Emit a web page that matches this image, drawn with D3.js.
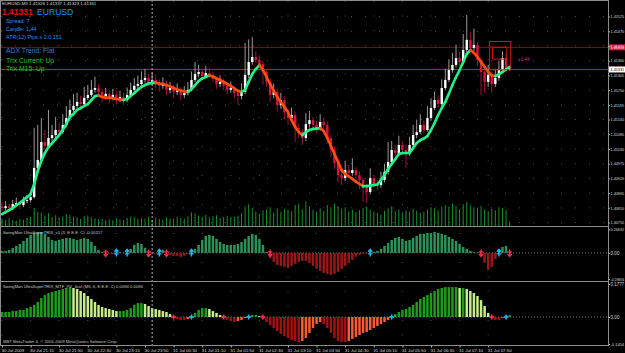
<!DOCTYPE html>
<html><head><meta charset="utf-8">
<script src="https://cdn.jsdelivr.net/npm/d3@7/dist/d3.min.js"></script>
<style>
html,body{margin:0;padding:0;background:#000;overflow:hidden}
svg{display:block;font-family:"Liberation Sans",Arial,sans-serif}
</style></head><body>
<svg id="chart" width="625" height="353"></svg>
<script>
// EURUSD M5, prices stored in points above 1.40000 (1 point = 0.00001)
const priceBase = 1.40000, pointSize = 0.00001;
const opens = [815,809,816,809,824,828,820,835,839,850,
959,989,1056,1041,1071,1082,1101,1093,1120,1146,
1176,1191,1206,1198,1221,1232,1251,1258,1243,1228,
1236,1221,1232,1217,1224,1213,1232,1251,1266,1273,
1288,1296,1281,1288,1273,1266,1273,1251,1258,1243,
1251,1232,1239,1251,1288,1310,1318,1303,1314,1307,
1292,1273,1281,1266,1251,1258,1239,1228,1243,1307,
1355,1374,1363,1348,1318,1281,1232,1243,1194,1213,
1168,1146,1157,1108,1093,1071,1123,1138,1120,1108,
1131,1120,1071,1026,977,932,921,951,940,951,
932,914,884,869,921,899,895,914,944,981,
1026,1015,1045,1026,1019,1045,1082,1093,1120,1101,
1146,1183,1213,1198,1258,1288,1325,1344,1370,1355,
1400,1438,1408,1419,1363,1318,1281,1307,1273,1296,
1325,1370,1326];
const highs = [830,835,826,840,848,838,852,858,868,1108,
1120,1146,1100,1176,1120,1150,1130,1160,1190,1215,
1235,1240,1228,1262,1270,1288,1300,1270,1255,1258,
1250,1255,1245,1248,1240,1260,1278,1295,1305,1320,
1330,1310,1315,1300,1290,1298,1285,1280,1270,1275,
1262,1265,1280,1320,1355,1345,1330,1340,1335,1320,
1300,1305,1292,1278,1282,1265,1252,1275,1426,1440,
1449,1395,1380,1360,1330,1295,1275,1255,1240,1225,
1180,1185,1170,1125,1105,1165,1172,1150,1135,1160,
1148,1132,1085,1040,990,950,985,970,995,962,
945,925,900,958,930,915,945,975,1056,1060,
1045,1080,1058,1045,1075,1120,1140,1160,1135,1190,
1220,1245,1230,1290,1330,1365,1390,1420,1395,1460,
1531,1470,1480,1430,1375,1330,1345,1320,1330,1360,
1395,1385,1337];
const lows = [795,800,798,802,815,806,812,826,830,845,
950,980,1025,1030,1060,1070,1080,1085,1110,1135,
1165,1180,1185,1190,1212,1225,1240,1230,1205,1215,
1200,1212,1198,1205,1195,1205,1225,1240,1255,1262,
1278,1265,1270,1258,1245,1255,1230,1238,1220,1232,
1212,1220,1230,1245,1280,1298,1290,1295,1296,1280,
1255,1262,1250,1235,1240,1220,1195,1215,1235,1295,
1345,1350,1330,1270,1262,1205,1220,1170,1180,1140,
1120,1130,1056,1070,1045,1060,1110,1100,1090,1098,
1105,1050,1000,955,905,895,910,925,930,915,
880,835,828,860,885,878,885,905,935,970,
1000,1005,1010,960,1005,1035,1070,1085,1088,1095,
1135,1175,1185,1190,1250,1280,1315,1335,1340,1345,
1390,1395,1395,1340,1232,1240,1262,1240,1262,1285,
1315,1315,1323];
const closes = [809,816,809,824,828,820,835,839,850,959,
989,1056,1041,1071,1082,1101,1093,1120,1146,1176,
1191,1206,1198,1221,1232,1251,1258,1243,1228,1236,
1221,1232,1217,1224,1213,1232,1251,1266,1273,1288,
1296,1281,1288,1273,1266,1273,1251,1258,1243,1251,
1232,1239,1251,1288,1310,1318,1303,1314,1307,1292,
1273,1281,1266,1251,1258,1239,1228,1243,1307,1355,
1374,1363,1348,1318,1281,1232,1243,1194,1213,1168,
1146,1157,1108,1093,1071,1123,1138,1120,1108,1131,
1120,1071,1026,977,932,921,951,940,951,932,
914,884,869,921,899,895,914,944,981,1026,
1015,1045,1026,1019,1045,1082,1093,1120,1101,1146,
1183,1213,1198,1258,1288,1325,1344,1370,1355,1400,
1438,1408,1419,1363,1318,1281,1307,1273,1296,1325,
1370,1326,1331];
const maValues = [786,794,801,809,820,828,839,850,861,899,
947,985,1015,1037,1052,1067,1082,1101,1123,1150,
1161,1176,1183,1191,1198,1213,1228,1230,1224,1222,
1221,1220,1217,1215,1213,1217,1228,1239,1251,1262,
1269,1275,1277,1277,1275,1273,1269,1264,1258,1252,
1249,1245,1243,1254,1269,1284,1294,1299,1305,1301,
1294,1288,1281,1273,1266,1256,1247,1243,1251,1281,
1310,1329,1344,1325,1299,1273,1247,1224,1206,1187,
1168,1138,1112,1093,1082,1093,1101,1105,1106,1108,
1097,1071,1041,1011,981,951,936,927,918,908,
899,891,891,893,895,897,914,933,955,974,
992,1011,1015,1015,1015,1034,1052,1063,1069,1078,
1101,1127,1157,1183,1206,1236,1269,1299,1325,1355,
1385,1400,1389,1374,1355,1337,1318,1305,1303,1309,
1318,1327,1337];
const volumes = [45,38,52,40,35,48,42,55,60,120,
95,88,70,85,60,72,55,64,80,75,
62,58,48,66,70,58,52,45,50,40,
46,38,52,44,40,55,62,58,48,52,
45,60,40,55,48,42,58,50,46,62,
55,48,66,90,85,70,62,75,58,66,
72,55,60,68,58,62,70,88,130,145,
120,95,82,105,110,125,88,118,92,115,
108,98,140,150,112,165,130,108,96,118,
102,140,125,150,132,118,125,98,110,92,
105,120,128,110,95,88,76,102,118,130,
98,110,92,105,96,115,102,88,95,110,
125,118,102,130,140,128,150,135,112,145,
160,138,125,120,132,110,98,115,105,125,
118,108,30];
const trixValues = [0.023,0.023,0.034,0.057,0.080,0.103,0.137,0.171,0.205,0.228,
0.239,0.239,0.217,0.182,0.148,0.137,0.148,0.160,0.171,0.171,
0.160,0.148,0.160,0.171,0.160,0.125,0.080,0.034,0.011,-0.011,
-0.011,-0.011,0.006,0.011,0.002,0.011,0.046,0.091,0.114,0.103,
0.057,-0.006,-0.004,-0.002,0.023,0.034,-0.006,-0.023,-0.034,-0.034,
-0.046,-0.034,-0.011,0.011,0.046,0.091,0.148,0.194,0.205,0.194,
0.160,0.125,0.103,0.091,0.091,0.091,0.103,0.125,0.160,0.194,
0.217,0.205,0.160,0.091,0.011,-0.057,-0.103,-0.137,-0.148,-0.160,
-0.171,-0.148,-0.125,-0.103,-0.091,-0.091,-0.114,-0.148,-0.182,-0.205,
-0.228,-0.239,-0.251,-0.239,-0.217,-0.182,-0.148,-0.114,-0.080,-0.046,
-0.023,-0.011,-0.011,0.011,0.011,0.023,0.046,0.080,0.114,0.148,
0.171,0.182,0.160,0.137,0.148,0.171,0.194,0.217,0.217,0.228,
0.228,0.239,0.228,0.217,0.205,0.182,0.160,0.137,0.103,0.068,
0.046,0.023,0.011,0.006,-0.034,-0.114,-0.194,-0.160,-0.068,0.034,
0.068,0.080,-0.00217];
const trixArrowsDown = [29,41,46,75,134,142];
const trixArrowsUp = [32,35,44,53,103,139];
const mtfValues = [0.027,0.027,0.027,0.032,0.032,0.038,0.038,0.048,0.054,0.065,
0.081,0.102,0.118,0.129,0.135,0.140,0.145,0.151,0.156,0.161,
0.156,0.151,0.140,0.129,0.113,0.097,0.081,0.065,0.054,0.048,
0.043,0.038,0.032,0.032,0.032,0.038,0.048,0.065,0.075,0.075,
0.070,0.059,0.048,0.043,0.038,0.032,0.027,0.016,-0.005,-0.011,
-0.016,-0.016,-0.011,0.005,0.022,0.038,0.048,0.048,0.043,0.032,
0.022,0.011,-0.005,-0.016,-0.022,-0.027,-0.022,-0.016,-0.005,0.005,
0.011,0.011,0.005,-0.011,-0.027,-0.043,-0.059,-0.075,-0.091,-0.102,
-0.113,-0.124,-0.129,-0.135,-0.129,-0.113,-0.086,-0.059,-0.038,-0.027,
-0.038,-0.059,-0.086,-0.113,-0.129,-0.135,-0.135,-0.129,-0.118,-0.108,
-0.097,-0.086,-0.081,-0.070,-0.059,-0.048,-0.038,-0.027,-0.016,0.005,
0.016,0.027,0.038,0.043,0.054,0.065,0.081,0.097,0.108,0.118,
0.129,0.140,0.151,0.156,0.161,0.161,0.161,0.161,0.156,0.156,
0.151,0.140,0.129,0.113,0.091,0.059,0.022,-0.005,-0.016,-0.016,
-0.005,0.005,0.0094];
const mtfCrossRed = [48,62,73,137];
const mtfCrossBlue = [53,69,109,141];
const priceTicks = [1.41525,1.41470,1.41415,1.41360,1.41305,1.41250,1.41195,1.41140,1.41085,1.41030,1.40975,1.40920,1.40865,1.40810,1.40755];
const timeLabelBars = [0,8,16,24,32,40,48,56,64,72,80,88,96,104,112,120,128,136];
const timeLabelTexts = ["30 Jul 2009","30 Jul 21:10","30 Jul 21:50","30 Jul 22:30","30 Jul 23:10","30 Jul 23:50","31 Jul 00:30","31 Jul 01:10","31 Jul 01:50","31 Jul 02:30","31 Jul 03:10","31 Jul 03:50","31 Jul 04:30","31 Jul 05:10","31 Jul 05:50","31 Jul 06:30","31 Jul 07:10","31 Jul 07:50"];
const daySeparatorBar = 42;
const resistanceLevel = 1.41410;
const bidPrice = 1.41331;
const zoneRects = [{fromBar:136.4,toBar:142.3,top:1.41432,bottom:1.41326},{fromBar:137.2,toBar:141.2,top:1.41410,bottom:1.41366}];
const trixRange = [-0.29806, 0.26692];
const mtfRange = [-0.1454, 0.1777];

const svg = d3.select("#chart");
svg.append("rect").attr("width",625).attr("height",353).attr("fill","#000");
const plotR = 608;
const price = v => priceBase + v*pointSize;
const n = closes.length;
const x = d3.scaleLinear().domain([0, n-1]).range([2, 509.65]);
const yP = d3.scaleLinear().domain([1.40742, 1.41587]).range([226, 0]);
const yV = d3.scaleLinear().domain([0, 200]).range([226, 196]);
const yT = d3.scaleLinear().domain(trixRange).range([279, 229.5]);
const yM = d3.scaleLinear().domain(mtfRange).range([344, 284]);

const defs = svg.append("defs");
defs.append("clipPath").attr("id","mainClip").append("rect").attr("x",0).attr("y",0).attr("width",plotR).attr("height",226);

// grid
const grid = svg.append("g");
priceTicks.forEach(p => grid.append("line").attr("x1",1).attr("x2",plotR).attr("y1",yP(p)).attr("y2",yP(p))
  .attr("stroke","#4a4a4a").attr("stroke-width",1).attr("stroke-dasharray","1,13"));
timeLabelBars.forEach(b => grid.append("line").attr("x1",x(b)).attr("x2",x(b)).attr("y1",1).attr("y2",345)
  .attr("stroke","#4a4a4a").attr("stroke-width",1).attr("stroke-dasharray","1,13.5"));

// volumes
const main = svg.append("g").attr("clip-path","url(#mainClip)");
main.selectAll(".vol").data(volumes).join("line")
  .attr("x1",(d,i)=>x(i)).attr("x2",(d,i)=>x(i)).attr("y1",yV(0)).attr("y2",d=>yV(d))
  .attr("stroke","#1a8f30").attr("stroke-width",1);

// horizontal levels
main.append("line").attr("x1",0).attr("x2",plotR).attr("y1",yP(resistanceLevel)).attr("y2",yP(resistanceLevel))
  .attr("stroke","#8a1010").attr("stroke-width",1);
main.append("line").attr("x1",0).attr("x2",plotR).attr("y1",yP(bidPrice)+1).attr("y2",yP(bidPrice)+1)
  .attr("stroke","#e01515").attr("stroke-width",1);

// candles
const bars = d3.range(n);
main.selectAll(".wick").data(bars).join("line")
  .attr("x1",i=>x(i)).attr("x2",i=>x(i))
  .attr("y1",i=>yP(price(highs[i]))).attr("y2",i=>yP(price(lows[i])))
  .attr("stroke",i=>closes[i]>=opens[i]?"#9a9a9a":"#9a1535").attr("stroke-width",1);
main.selectAll(".body").data(bars).join("rect")
  .attr("x",i=>x(i)-1.2).attr("width",2.4)
  .attr("y",i=>yP(price(Math.max(opens[i],closes[i]))))
  .attr("height",i=>Math.max(1, yP(price(Math.min(opens[i],closes[i])))-yP(price(Math.max(opens[i],closes[i])))))
  .attr("fill",i=>closes[i]>=opens[i]?"#ffffff":"#dc143c");

// moving average coloured by slope
for (let i=1;i<n;i++){
  main.append("line").attr("x1",x(i-1)).attr("y1",yP(price(maValues[i-1])))
    .attr("x2",x(i)).attr("y2",yP(price(maValues[i])))
    .attr("stroke", maValues[i]>=maValues[i-1] ? "#22f08a" : "#ff4d14")
    .attr("stroke-width",2.6).attr("stroke-linecap","round");
}

// zone rectangles
zoneRects.forEach(r => main.append("rect").attr("x",x(r.fromBar)).attr("width",x(r.toBar)-x(r.fromBar))
  .attr("y",yP(r.top)).attr("height",yP(r.bottom)-yP(r.top))
  .attr("fill","none").attr("stroke","#d01818").attr("stroke-width",1));

main.append("text").attr("x",518).attr("y",yP(1.41370)+3).attr("font-size",4.6).attr("fill","#b030b0").text("+1.44");

// indicator 1: TRIX histogram
const ind1 = svg.append("g");
ind1.append("line").attr("x1",0).attr("x2",plotR).attr("y1",yT(0)).attr("y2",yT(0))
  .attr("stroke","#707070").attr("stroke-dasharray","1,2");
ind1.selectAll(".tb").data(trixValues).join("rect")
  .attr("x",(d,i)=>x(i)-1.25).attr("width",2.5)
  .attr("y",d=>Math.min(yT(0),yT(d))).attr("height",d=>Math.max(0.5,Math.abs(yT(d)-yT(0))))
  .attr("fill",d=>d>=0?"#2e9158":"#981818");
const downArrow = "M0,-3.5V3.5M-2,1.2L0,3.5L2,1.2M-2.2,-1H2.2";
const upArrow = "M0,3.5V-3.5M-2,-1.2L0,-3.5L2,-1.2M-2.2,1H2.2";
trixArrowsDown.forEach(b => ind1.append("path").attr("d",downArrow)
  .attr("transform",`translate(${x(b)},${yT(0)})`).attr("fill","none").attr("stroke","#ff2a55").attr("stroke-width",1.4));
trixArrowsUp.forEach(b => ind1.append("path").attr("d",upArrow)
  .attr("transform",`translate(${x(b)},${yT(0)})`).attr("fill","none").attr("stroke","#2ab4f0").attr("stroke-width",1.4));

// indicator 2: MTF 4-colour histogram
const ind2 = svg.append("g");
ind2.append("line").attr("x1",0).attr("x2",plotR).attr("y1",yM(0)).attr("y2",yM(0))
  .attr("stroke","#707070").attr("stroke-dasharray","1,2");
ind2.selectAll(".mb").data(mtfValues).join("rect")
  .attr("x",(d,i)=>x(i)-1.25).attr("width",2.5)
  .attr("y",d=>Math.min(yM(0),yM(d))).attr("height",d=>Math.max(0.5,Math.abs(yM(d)-yM(0))))
  .attr("fill",(d,i)=>{
    const prev = i>0 ? mtfValues[i-1] : d;
    if (d>=0) return d>=prev ? "#1f9a1f" : "#c6ec8c";
    return d<=prev ? "#a01212" : "#ff5a34";
  });
const cross = "M-2.5,0H2.5M0,-2.5V2.5";
mtfCrossRed.forEach(b => ind2.append("path").attr("d",cross)
  .attr("transform",`translate(${x(b)},${yM(0)})`).attr("stroke","#ff2a55").attr("stroke-width",1.6));
mtfCrossBlue.forEach(b => ind2.append("path").attr("d",cross)
  .attr("transform",`translate(${x(b)},${yM(0)})`).attr("stroke","#2ab4f0").attr("stroke-width",1.6));

// day separator
svg.append("line").attr("x1",x(daySeparatorBar)).attr("x2",x(daySeparatorBar)).attr("y1",0).attr("y2",345)
  .attr("stroke","#b0b0b0").attr("stroke-width",1).attr("stroke-dasharray","2,2");

// frames
const frame = svg.append("g").attr("stroke","#8c8c8c").attr("stroke-width",1);
frame.append("rect").attr("x",0.5).attr("y",0.5).attr("width",plotR).attr("height",345).attr("fill","none");
[226.5,281.5].forEach(yy => frame.append("line").attr("x1",0).attr("x2",plotR+0.5).attr("y1",yy).attr("y2",yy));

// right axes: shrink labels so they fit inside the 625px window
const maxLabelW = 13.6;
const fitLabel = sel => sel.each(function(){
  const s = d3.select(this);
  const fs = +s.attr("font-size");
  const w = this.getComputedTextLength();
  if (w > maxLabelW) s.attr("font-size", (fs*maxLabelW/w).toFixed(2));
});
const axisStyle = g => { g.select(".domain").remove(); g.selectAll("line").attr("stroke","#b0b0b0");
  g.selectAll("text").attr("fill","#d8d8d8").attr("font-size",4.6).attr("font-family","Liberation Sans, Arial, sans-serif").call(fitLabel); };
// highlight boxes
svg.append("rect").attr("x",609).attr("y",yP(resistanceLevel)-3).attr("width",16).attr("height",6).attr("fill","#dc143c");
svg.append("rect").attr("x",609).attr("y",yP(bidPrice)-2).attr("width",16).attr("height",6).attr("fill","#ffffff");
svg.append("g").attr("transform",`translate(${plotR+0.5},0)`)
  .call(d3.axisRight(yP).tickValues(priceTicks).tickFormat(d3.format(".5f")).tickSize(1.5).tickPadding(0.5)).call(axisStyle);
svg.append("text").attr("x",610.5).attr("y",yP(resistanceLevel)+1.7).attr("font-size",4.6).attr("fill","#ffe0e0").text(resistanceLevel.toFixed(5)).call(fitLabel);
svg.append("text").attr("x",610.5).attr("y",yP(bidPrice)+2.7).attr("font-size",4.6).attr("fill","#000").text(bidPrice.toFixed(5)).call(fitLabel);
svg.append("g").attr("transform",`translate(${plotR+0.5},0)`)
  .call(d3.axisRight(yT).tickValues([trixRange[1],0,trixRange[0]]).tickFormat(d=>d===0?"0.00":String(d)).tickSize(1.5).tickPadding(0.5)).call(axisStyle);
svg.append("g").attr("transform",`translate(${plotR+0.5},0)`)
  .call(d3.axisRight(yM).tickValues([mtfRange[1],0,mtfRange[0]]).tickFormat(d=>d===0?"0.00":String(d)).tickSize(1.5).tickPadding(0.5)).call(axisStyle);

// time axis
svg.append("g").attr("transform","translate(0,345.5)")
  .call(d3.axisBottom(x).tickValues(timeLabelBars).tickFormat((d,i)=>timeLabelTexts[i]).tickSize(2).tickPadding(1))
  .call(g=>{ g.select(".domain").remove(); g.selectAll("line").attr("stroke","#b0b0b0");
    g.selectAll("text").attr("fill","#d8d8d8").attr("font-size",4.4).attr("text-anchor","start").attr("dx",-1)
      .attr("font-family","Liberation Sans, Arial, sans-serif"); });

// header and info texts
const txt = (t,xx,yy,size,color,weight) => svg.append("text").attr("x",xx).attr("y",yy).attr("font-size",size)
  .attr("fill",color).attr("font-weight",weight||"normal").text(t);
txt("EURUSD,M5  1.41326 1.41337 1.41323 1.41331",2,5,4.4,"#d8d8d8");
txt("1.41331",2,15,8.5,"#e01010","bold");
txt("EURUSD",37,15,8.6,"#2090ff");
txt("Spread:  7",6,23,5.4,"#2090ff");
txt("Candle:  1.44",6,31,5.4,"#2090ff");
txt("ATR(12) Pips x 2.0    151",6,39,5.4,"#2090ff");
txt("ADX Trend: Flat",6,53,6.8,"#3a78d8");
txt("Trix Current: Up",6,63,6.8,"#22c022");
txt("Trix M15:  Up",6,71,6.8,"#22c022");
txt("SwingMan UltraSuperTRIX_v1 (3, E.E.E. C) -0.00217",3,233.5,4.2,"#c8c8c8");
txt("SwingMan UltraSuperTRIX_MTF_PV_4col (M5, 6, E.E.E. C) 0.0094 0.0094",3,288,4.2,"#c8c8c8");
txt("MBT MetaTrader 4, © 2001-2009 MetaQuotes Software Corp.",3,343,4.2,"#c0c0c0");
</script></body></html>
